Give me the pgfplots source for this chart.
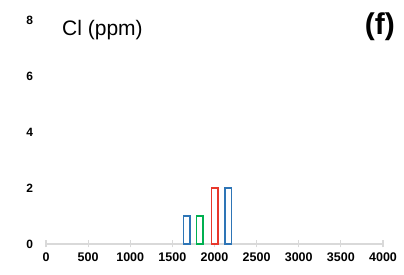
\documentclass[border=0pt]{standalone}
\usepackage{fontspec}
\setmainfont{Liberation Sans}
\usepackage{pgfplots}
\pgfplotsset{compat=1.18}
\definecolor{cblue}{HTML}{2E75B6}
\definecolor{cgreen}{HTML}{00B050}
\definecolor{cred}{HTML}{E8372B}
\definecolor{cgrid}{HTML}{D9D9D9}
\begin{document}
\begin{tikzpicture}[x=1pt,y=1pt]
\path[use as bounding box] (-46,-31) rectangle (358,244);
\begin{axis}[
  at={(0,0)}, anchor=south west,
  scale only axis, width=337pt, height=224pt,
  xmin=0, xmax=4000, ymin=0, ymax=8,
  axis x line*=bottom,
  axis y line*=left,
  y axis line style={draw=none},
  x axis line style={cgrid, line width=1.2pt, -},
  xtick={0,500,...,4000},
  ytick={0,2,4,6,8},
  tick align=center,
  major tick length=7pt,
  xtick style={cgrid, line width=1.2pt},
  ytick style={draw=none},
  /pgf/number format/assume math mode=true,
  /pgf/number format/set thousands separator={},
  xticklabel style={font=\bfseries\fontsize{12.5}{14}\selectfont, yshift=-2pt},
  yticklabel style={font=\bfseries\fontsize{12}{14}\selectfont, anchor=east, xshift=-6pt},
  clip=false,
]
\addplot[ybar, bar shift=0pt, bar width=6.5pt, draw=cblue, fill=white, line width=1.5pt] coordinates {(1670,1) (2165,2)};
\addplot[ybar, bar shift=0pt, bar width=6.5pt, draw=cgreen, fill=white, line width=1.5pt] coordinates {(1826,1)};
\addplot[ybar, bar shift=0pt, bar width=6.5pt, draw=cred, fill=white, line width=1.5pt] coordinates {(2000,2)};
\end{axis}
\node[anchor=base west, inner sep=0pt, font=\fontsize{21}{24}\selectfont] at (16,208) {Cl (ppm)};
\node[anchor=base east, inner sep=0pt, font=\bfseries\fontsize{30}{34}\selectfont] at (349,209) {(f)};
\end{tikzpicture}
\end{document}
